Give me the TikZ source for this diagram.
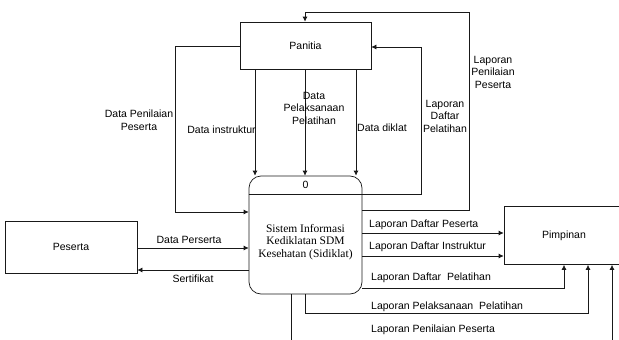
\documentclass[tikz,border=0pt]{standalone}
\usepackage{fontspec}
\setmainfont{Liberation Serif}
\setsansfont{Liberation Sans}
\usetikzlibrary{arrows.meta,calc}
\definecolor{LineClr}{rgb}{0.1,0.1,0.1}

\begin{document}
\begin{tikzpicture}[x=1pt,y=-1pt,
  box/.style={draw=LineClr,line width=0.7pt,inner sep=0pt,font=\sffamily\fontsize{10.5}{12.5}\selectfont},
  flow/.style={draw=LineClr,line width=0.7pt,-{Latex[length=5pt,width=5pt]}},
  line/.style={draw=LineClr,line width=0.7pt},
  lbl/.style={font=\sffamily\fontsize{10.5}{12.5}\selectfont,align=center,inner sep=0pt}]
\clip (0,0) rectangle (619,340);

\node[box,minimum width=131pt,minimum height=47pt] (panitia) at (305.5,45.5) {Panitia};
\node[box,minimum width=132pt,minimum height=52pt] (peserta) at (71,247) {Peserta};
\node[box,minimum width=120pt,minimum height=58pt] (pimpinan) at (564,235.5) {Pimpinan};
\node[box,rounded corners=12pt,minimum width=113pt,minimum height=118pt] (sistem) at (305.5,235) {};
\node[lbl,font=\fontsize{11.5}{12.5}\selectfont] (sistemtxt) at (305.5,242)
  {Sistem Informasi\\Kediklatan SDM\\Kesehatan (Sidiklat)};
\node[lbl] (nomor) at (305.5,185) {0};
\draw[line] (sistem.west |- 0,194) -- (sistem.east |- 0,194);

\coordinate (lppA) at (291,345);
\coordinate (lppB) at (612,345);

\draw[flow] (panitia.south -| 255,0) -- (sistem.north -| 255,0);
\draw[flow] (panitia.south -| 305,0) -- (sistem.north -| 305,0);
\draw[flow] (panitia.south -| 356,0) -- (sistem.north -| 356,0);
\draw[flow] (panitia.west |- 0,46) -| (175,212) -- (sistem.west |- 0,212);
\draw[flow] (sistem.east |- 0,194) -| (421,47) -- (panitia.east |- 0,47);
\draw[flow] (sistem.east |- 0,210) -| (469,12) -| (panitia.north -| 305,0);

\draw[flow] (peserta.east |- 0,248) -- (sistem.west |- 0,248);
\draw[flow] (sistem.west |- 0,270) -- (peserta.east |- 0,270);

\draw[flow] (sistem.east |- 0,233) -- (pimpinan.west |- 0,233);
\draw[flow] (sistem.east |- 0,256) -- (pimpinan.west |- 0,256);
\draw[flow] (sistem.east |- 0,288) -| (pimpinan.south -| 564,0);
\draw[flow] (sistem.south -| 305,0) |- (588,313) -- (pimpinan.south -| 588,0);
\draw[line] (sistem.south -| 291,0) -- (lppA);
\draw[flow] (lppB) -- (pimpinan.south -| 612,0);

\node[lbl] (lDPP) at (139,120) {Data Penilaian\\Peserta};
\node[lbl] (lDI) at (221.5,130) {Data instruktur};
\node[lbl] (lDPL) at (314,108) {Data\\Pelaksanaan\\Pelatihan};
\node[lbl] (lDD) at (382,128) {Data diklat};
\node[lbl] (lLDPa) at (445,116) {Laporan\\Daftar\\Pelatihan};
\node[lbl] (lLPPa) at (493,72) {Laporan\\Penilaian\\Peserta};
\node[lbl] (lDPs) at (189,240) {Data Perserta};
\node[lbl] (lSer) at (193,279) {Sertifikat};
\node[lbl,anchor=west] (lLDPs) at (369,225) {Laporan Daftar Peserta};
\node[lbl,anchor=west] (lLDI) at (369,247) {Laporan Daftar Instruktur};
\node[lbl,anchor=west] (lLDPb) at (371,278) {Laporan Daftar\ \ Pelatihan};
\node[lbl,anchor=west] (lLPl) at (371,307) {Laporan Pelaksanaan\ \ Pelatihan};
\node[lbl,anchor=west] (lLPPb) at (371,330) {Laporan Penilaian Peserta};

\end{tikzpicture}
\end{document}
